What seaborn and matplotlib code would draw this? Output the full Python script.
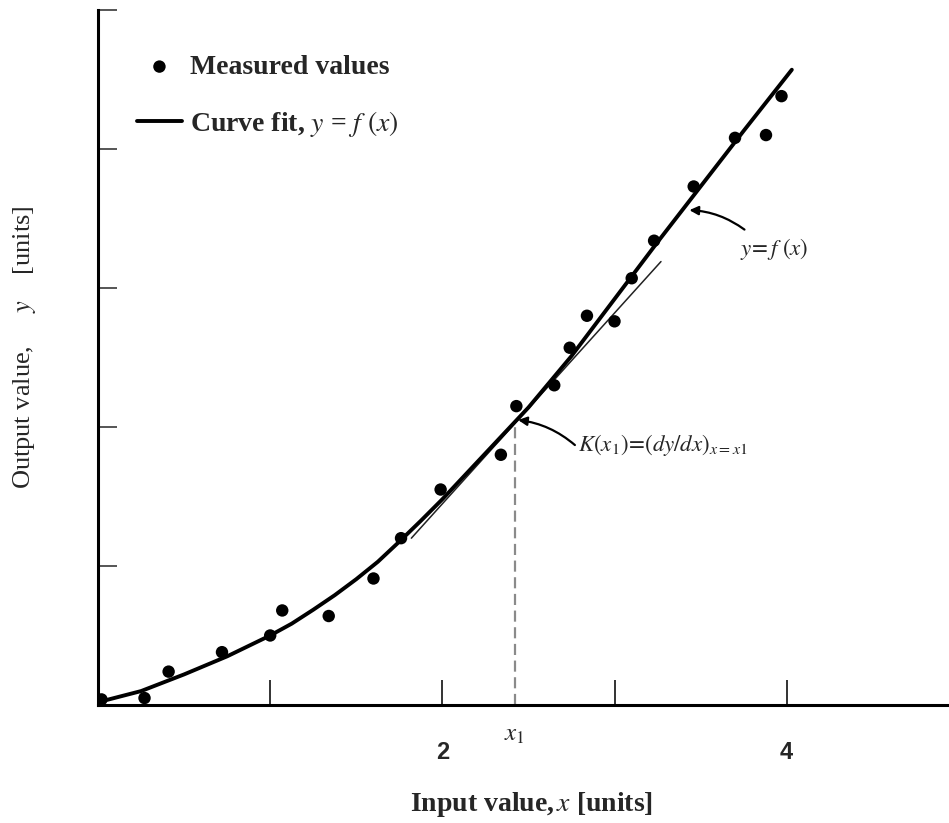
import matplotlib
matplotlib.use("Agg")
import matplotlib.pyplot as plt
import pandas as pd
import seaborn as sns

x_meas = [0.02, 0.27, 0.41, 0.72, 1.00, 1.07, 1.34, 1.60, 1.76, 1.99, 2.34, 2.43,
          2.65, 2.74, 2.84, 3.00, 3.10, 3.23, 3.46, 3.70, 3.88, 3.97]
y_meas = [0.04, 0.05, 0.24, 0.38, 0.50, 0.68, 0.64, 0.91, 1.20, 1.55, 1.80, 2.15,
          2.30, 2.57, 2.80, 2.76, 3.07, 3.34, 3.73, 4.08, 4.10, 4.38]

# curve fit y = f(x), sampled from the drawn curve
x_fit = [0.0, 0.25, 0.5, 0.75, 1.0, 1.125, 1.25, 1.375, 1.5, 1.625, 1.75, 1.875,
         2.0, 2.25, 2.5, 2.75, 3.0, 3.25, 3.5, 3.75, 4.03]
y_fit = [0.02, 0.10, 0.22, 0.35, 0.50, 0.585, 0.685, 0.79, 0.905, 1.03, 1.175, 1.325,
         1.48, 1.81, 2.14, 2.51, 2.92, 3.33, 3.73, 4.13, 4.57]

# tangent at x1
x1 = 2.42
y_x1 = 2.02
tangent_x = [1.82, 3.27]
tangent_y = [1.20, 3.19]

x_ticks = [1, 2, 3, 4]
x_ticklabels = ["", "2", "", "4"]
y_ticks = [1, 2, 3, 4, 5]


def main():
    sns.set_theme(style="ticks")
    plt.rcParams["font.family"] = ["Liberation Serif", "DejaVu Serif"]
    plt.rcParams["mathtext.fontset"] = "stix"

    meas = pd.DataFrame({"x": x_meas, "y": y_meas})
    fit = pd.DataFrame({"x": x_fit, "y": y_fit})

    fig = plt.figure(figsize=(9.49, 8.23), dpi=100)
    ax = fig.add_axes([0.1033, 0.1434, 0.8967, 0.8445])

    sns.scatterplot(data=meas, x="x", y="y", ax=ax, color="black", s=80,
                    edgecolor="none", zorder=4)
    sns.lineplot(data=fit, x="x", y="y", ax=ax, color="black", lw=2.8,
                 sort=False, zorder=3)
    sns.lineplot(x=tangent_x, y=tangent_y, ax=ax, color="#222222", lw=1.1, zorder=2)
    ax.plot([x1, x1], [0, y_x1], color="#8a8a8a", lw=1.6, ls=(0, (5, 2.5)), zorder=1)
    ax.lines[0].set_solid_joinstyle("round")

    sc = ax.collections[0]
    ln = ax.lines[0]
    ax.legend(handles=[sc, ln],
              labels=["Measured values", r"Curve fit, $y$ = $f\ (x)$"],
              loc="upper left", bbox_to_anchor=(0.033, 0.952), frameon=False,
              prop={"weight": "bold", "size": 20}, handlelength=1.6,
              handletextpad=0.3, labelspacing=1.05, borderaxespad=0)

    # annotations
    ax.annotate("", xy=(3.435, 3.56), xytext=(3.755, 3.42),
                arrowprops=dict(arrowstyle="-|>", color="black", lw=1.6,
                                mutation_scale=13, shrinkA=0, shrinkB=0,
                                connectionstyle="arc3,rad=0.15"))
    ax.text(3.73, 3.28, r"$y\!=f\ (x)$", fontsize=16.5, ha="left", va="center")

    ax.annotate("", xy=(2.44, 2.05), xytext=(2.77, 1.87),
                arrowprops=dict(arrowstyle="-|>", color="black", lw=1.6,
                                mutation_scale=13, shrinkA=0, shrinkB=0,
                                connectionstyle="arc3,rad=0.15"))
    ax.text(2.79, 1.87, r"$K(x_1)\!=\!(dy/dx)_{x=x1}$", fontsize=16.5,
            ha="left", va="center")

    ax.set_xlim(0, 4.943)
    ax.set_ylim(0, 5.0)
    sns.despine(ax=ax)
    for s in ["left", "bottom"]:
        ax.spines[s].set_linewidth(2.2)
        ax.spines[s].set_color("black")

    ax.set_xticks(x_ticks)
    ax.set_xticklabels(x_ticklabels, family="Liberation Sans", weight="bold", fontsize=17)
    ax.set_xticks([x1], labels=[r"$x_1$"], minor=True)
    ax.tick_params(axis="x", which="major", direction="in", length=18, width=1.4,
                   color="#333333", pad=26)
    ax.tick_params(axis="x", which="minor", length=0, pad=14, labelsize=18)
    ax.set_yticks(y_ticks)
    ax.set_yticklabels([])
    ax.tick_params(axis="y", direction="in", length=14, width=1.4, color="#555555")

    ax.set_xlabel(r"Input value,$\,x$ [units]", fontsize=20, weight="bold")
    ax.xaxis.set_label_coords(0.509, -0.122)
    ax.set_ylabel(r"Output value,     $y$    [units]", fontsize=19)
    ax.yaxis.set_label_coords(-0.071, 0.515)

    fig.savefig("out.png", dpi=100, facecolor="white")
    plt.close(fig)


if __name__ == '__main__':
    main()
